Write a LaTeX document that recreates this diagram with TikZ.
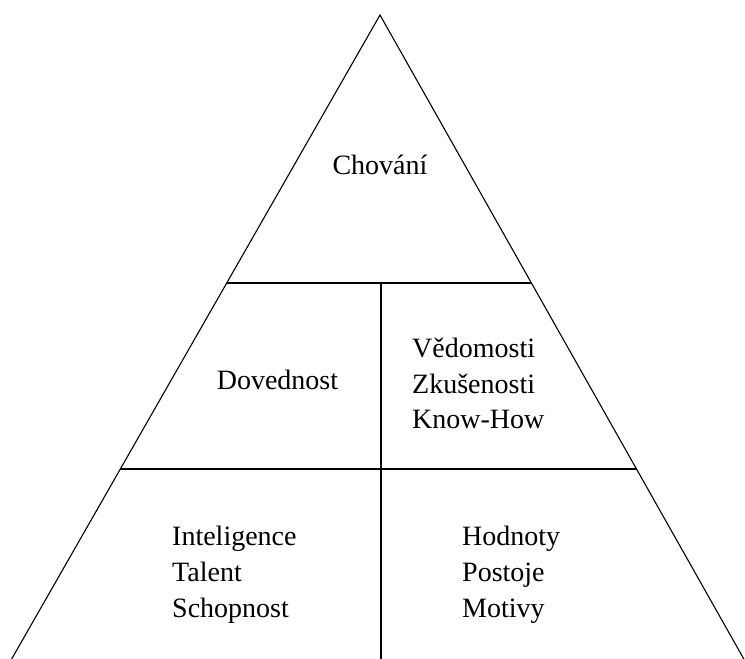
\documentclass[tikz,border=0pt]{standalone}
\usepackage{fontspec}
\setmainfont{Liberation Serif}
\newfontfamily\lblfont{Liberation Serif}
\begin{document}
\begin{tikzpicture}[x=1pt,y=-1pt,
  edge/.style={draw=black,line width=1.1pt},
  lbl/.style={inner sep=0pt,font=\lblfont\fontsize{28}{35}\selectfont}]
\useasboundingbox (0,0) rectangle (745,659);
\clip (0,0) rectangle (745,659);
% geometry
\coordinate (apex) at (380,15);
\coordinate (bl) at (-11.8,700);
\coordinate (br) at (767,700);
\coordinate (l1) at (226.7,283);
\coordinate (r1) at (531.4,283);
\coordinate (l2) at (120.3,469);
\coordinate (r2) at (636.5,469);
\coordinate (m1) at (381,283);
\coordinate (m3) at (381,700);
\draw[edge] (bl) -- (apex) -- (br);
\draw[edge] (l1) -- (r1);
\draw[edge] (l2) -- (r2);
\draw[edge] (m1) -- (m3);
% labels
\node[lbl,anchor=base] (chovani) at (380,174) {Chování};
\node[lbl,anchor=base] (dovednost) at (277.5,389) {Dovednost};
\node[lbl,anchor=base west] (vedomosti) at (412,357) {Vědomosti};
\node[lbl,anchor=base west] (zkusenosti) at (412,393) {Zkušenosti};
\node[lbl,anchor=base west] (knowhow) at (412,428) {Know-How};
\node[lbl,anchor=base west] (inteligence) at (172,545) {Inteligence};
\node[lbl,anchor=base west] (talent) at (172,581) {Talent};
\node[lbl,anchor=base west] (schopnost) at (172,617) {Schopnost};
\node[lbl,anchor=base west] (hodnoty) at (462,545) {Hodnoty};
\node[lbl,anchor=base west] (postoje) at (462,581) {Postoje};
\node[lbl,anchor=base west] (motivy) at (462,617) {Motivy};
\end{tikzpicture}
\end{document}
